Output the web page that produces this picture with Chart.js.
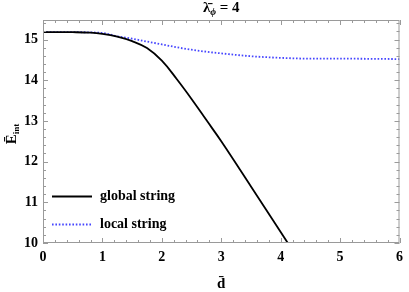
<!DOCTYPE html>
<html>
<head>
<meta charset="utf-8">
<script src="https://cdn.jsdelivr.net/npm/chart.js@4.4.1/dist/chart.umd.min.js"></script>
<style>
html,body{margin:0;padding:0;background:#fff;}
#wrap{width:409px;height:292px;position:relative;}
</style>
</head>
<body>
<div id="wrap"><canvas id="c" width="409" height="292"></canvas></div>
<script>
// ---- data ----
const globalD = [0, 0.5, 0.8, 1.0, 1.25, 1.5, 1.75, 2.0, 2.25, 2.5, 2.75, 3.0, 3.5, 4.0, 4.12];
const globalE = [15.18, 15.18, 15.17, 15.14, 15.07, 14.96, 14.79, 14.48, 14.03, 13.54, 13.02, 12.5, 11.39, 10.27, 10.0];
const localD = [0, 0.5, 1.0, 1.25, 1.5, 1.75, 2.0, 2.25, 2.5, 2.75, 3.0, 3.5, 4.0, 4.5, 5.0, 6.0];
const localE = [15.18, 15.18, 15.16, 15.08, 15.02, 14.95, 14.88, 14.81, 14.75, 14.7, 14.66, 14.59, 14.55, 14.53, 14.53, 14.52];
const xTicks = [0, 1, 2, 3, 4, 5, 6];
const yTicks = [10, 11, 12, 13, 14, 15];
const seriesLabels = ['global string', 'local string'];

const SERIF = '"Liberation Serif", "DejaVu Serif", serif';
const FRAME = '#9a9a9a';

function pts(xs, ys){ return xs.map((x,i)=>({x:x, y:ys[i]})); }

const frameTicks = {
  id:'frameTicks',
  afterDatasetsDraw(chart){
    const {ctx, chartArea:a, scales:{x, y}} = chart;
    ctx.save();
    ctx.strokeStyle = FRAME;
    ctx.lineWidth = 1;
    ctx.strokeRect(a.left+0.5, a.top+0.5, a.right-a.left-1, a.bottom-a.top-1);
    ctx.beginPath();
    for(let i=0;i<=30;i++){
      const v = x.min + i*0.2;
      const px = Math.round(x.getPixelForValue(v))+0.5;
      const len = (i%5===0)?5:3;
      ctx.moveTo(px, a.bottom); ctx.lineTo(px, a.bottom-len);
      ctx.moveTo(px, a.top); ctx.lineTo(px, a.top+len);
    }
    for(let i=0;i<=27;i++){
      const v = 10 + i*0.2;
      if(v > y.max+1e-9) break;
      const py = Math.round(y.getPixelForValue(v))+0.5;
      const len = (i%5===0)?5:3;
      ctx.moveTo(a.left, py); ctx.lineTo(a.left+len, py);
      ctx.moveTo(a.right, py); ctx.lineTo(a.right-len, py);
    }
    ctx.stroke();

    // legend inside plot
    const ds = chart.data.datasets;
    const rows = [196, 224];
    ds.forEach((d,i)=>{
      ctx.save();
      ctx.strokeStyle = d.borderColor;
      ctx.lineWidth = d.borderWidth;
      ctx.setLineDash(d.borderDash || []);
      ctx.beginPath();
      ctx.moveTo(52, rows[i]+0.5); ctx.lineTo(92, rows[i]+0.5);
      ctx.stroke();
      ctx.restore();
      ctx.fillStyle = '#000';
      ctx.font = 'bold 14px ' + SERIF;
      ctx.textAlign = 'left';
      ctx.textBaseline = 'middle';
      ctx.fillText(seriesLabels[i], 100, rows[i]);
    });

    // title
    ctx.fillStyle = '#000';
    ctx.textBaseline = 'alphabetic';
    const t1 = 'λ̄', t3 = ' = 4';
    ctx.font = 'bold 15px ' + SERIF;
    const w1 = ctx.measureText(t1).width;
    ctx.font = 'bold italic 10px ' + SERIF;
    const w2 = ctx.measureText('ϕ').width;
    ctx.font = 'bold 15px ' + SERIF;
    const w3 = ctx.measureText(t3).width;
    let sx = (a.left+a.right)/2 - (w1+w2+w3)/2;
    ctx.textAlign = 'left';
    ctx.fillText(t1, sx, 12);
    ctx.font = 'bold italic 10px ' + SERIF;
    ctx.fillText('ϕ', sx+w1, 15);
    ctx.font = 'bold 15px ' + SERIF;
    ctx.fillText(t3, sx+w1+w2, 12);

    // x axis title
    ctx.textAlign = 'center';
    ctx.font = 'bold 15px ' + SERIF;
    ctx.fillText('d̄', (a.left+a.right)/2, 288);

    // y axis title (rotated)
    ctx.save();
    ctx.translate(16, 134);
    ctx.rotate(-Math.PI/2);
    ctx.font = 'bold 15px ' + SERIF;
    const e = 'Ē';
    const we = ctx.measureText(e).width;
    ctx.font = 'bold 9px ' + SERIF;
    const wi = ctx.measureText('int').width;
    ctx.textAlign = 'left';
    ctx.font = 'bold 15px ' + SERIF;
    ctx.fillText(e, -(we+wi)/2, 0);
    ctx.font = 'bold 9px ' + SERIF;
    ctx.fillText('int', -(we+wi)/2 + we, 3);
    ctx.restore();
    ctx.restore();
  }
};

new Chart(document.getElementById('c'), {
  type: 'line',
  data: {
    datasets: [
      { label: seriesLabels[0], data: pts(globalD, globalE), borderColor: '#000', borderWidth: 1.8,
        pointRadius: 0, tension: 0.4, fill: false },
      { label: seriesLabels[1], data: pts(localD, localE), borderColor: 'rgb(70,70,255)', borderWidth: 1.8,
        borderDash: [1.6, 1.8], pointRadius: 0, cubicInterpolationMode: 'monotone', fill: false }
    ]
  },
  options: {
    responsive: false,
    animation: false,
    events: [],
    layout: { padding: { top: 20, right: 6, left: 0, bottom: 0 } },
    plugins: { legend: { display: false }, title: { display: false }, tooltip: { enabled: false } },
    scales: {
      x: {
        type: 'linear', min: 0, max: 6,
        border: { display: false },
        grid: { display: false, drawTicks: false },
        afterFit(s){ s.height = 49; },
        afterBuildTicks(s){ s.ticks = xTicks.map(v=>({value:v})); },
        ticks: { color: '#000', padding: 6, font: { family: SERIF, size: 14, weight: 'bold' }, maxRotation: 0 }
      },
      y: {
        type: 'linear', min: 10, max: 15.48,
        border: { display: false },
        grid: { display: false, drawTicks: false },
        afterFit(s){ s.width = 43; },
        afterBuildTicks(s){ s.ticks = yTicks.map(v=>({value:v})); },
        ticks: { color: '#000', padding: 5, font: { family: SERIF, size: 14, weight: 'bold' } }
      }
    }
  },
  plugins: [frameTicks]
});
</script>
</body>
</html>
